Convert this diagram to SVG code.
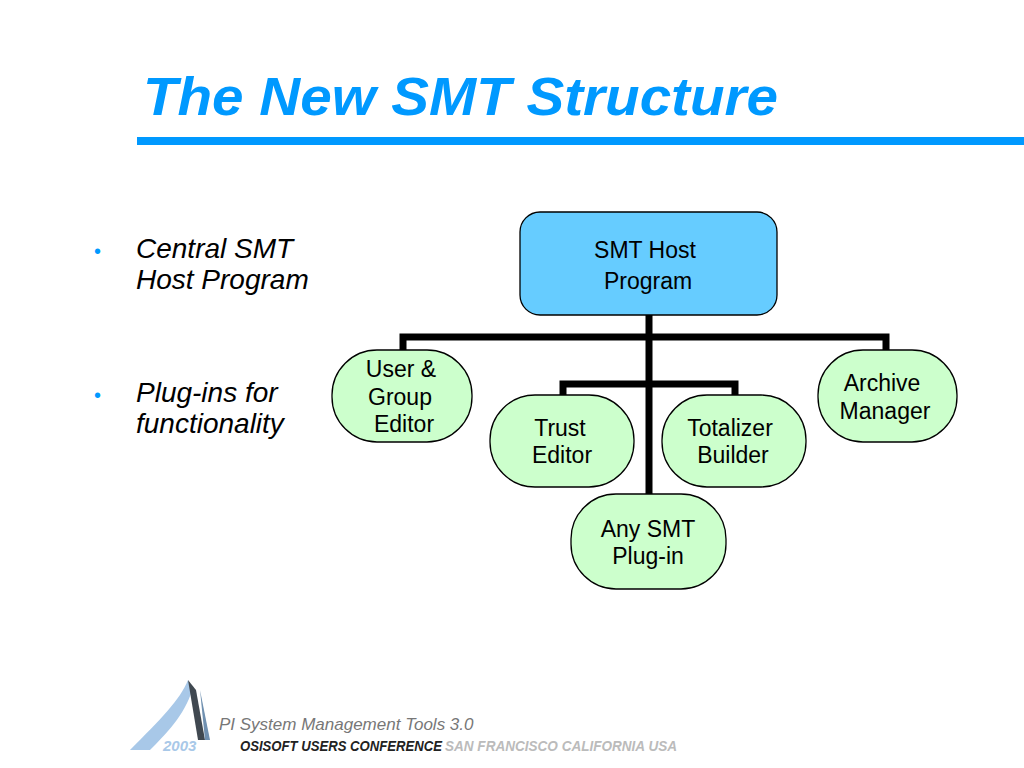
<svg xmlns="http://www.w3.org/2000/svg" width="1024" height="768" viewBox="0 0 1024 768">
<style>
.n{fill:#ccffcc;stroke:#000;stroke-width:1.3}
.t{font-family:"Liberation Sans",Arial,sans-serif;font-size:23px;fill:#000;text-anchor:middle}
.b{font-family:"Liberation Sans",Arial,sans-serif;font-size:28px;font-style:italic;fill:#000}
.c{stroke:#000;stroke-width:7;fill:none}
</style>
<rect width="1024" height="768" fill="#fff"/>
<text x="143" y="115" font-family="Liberation Sans,Arial,sans-serif" font-size="54" font-weight="bold" font-style="italic" fill="#0099ff" textLength="635" lengthAdjust="spacingAndGlyphs">The New SMT Structure</text>
<rect x="137" y="137" width="887" height="8" fill="#0099ff"/>
<g id="bullets">
<text x="94" y="258" font-family="Liberation Sans,Arial,sans-serif" font-size="20" fill="#0099ff">•</text>
<text x="136" y="258" class="b">Central SMT</text>
<text x="136" y="289" class="b">Host Program</text>
<text x="94" y="402" font-family="Liberation Sans,Arial,sans-serif" font-size="20" fill="#0099ff">•</text>
<text x="136" y="402" class="b">Plug-ins for</text>
<text x="136" y="433" class="b">functionality</text>
</g>
<g id="connectors">
<path class="c" d="M649 314V494M403 352V337H886V352M563 397V384H735V397"/>
</g>
<g id="host"><rect x="520" y="212" width="257" height="103" rx="20" fill="#66ccff" stroke="#000" stroke-width="1.3"/>
<text class="t" x="645" y="258">SMT Host</text><text class="t" x="648" y="289">Program</text></g>
<g id="user"><rect class="n" x="332" y="350" width="140" height="92" rx="45"/>
<text class="t" x="401" y="377">User &amp;</text><text class="t" x="400" y="405">Group</text><text class="t" x="404" y="432">Editor</text></g>
<g id="trust"><rect class="n" x="490" y="395" width="144" height="92" rx="45"/>
<text class="t" x="560" y="436">Trust</text><text class="t" x="562" y="463">Editor</text></g>
<g id="totalizer"><rect class="n" x="662" y="395" width="144" height="92" rx="45"/>
<text class="t" x="730" y="436">Totalizer</text><text class="t" x="733" y="463">Builder</text></g>
<g id="archive"><rect class="n" x="818" y="350" width="139" height="92" rx="45"/>
<text class="t" x="882" y="391">Archive</text><text class="t" x="885" y="419">Manager</text></g>
<g id="any"><rect class="n" x="571" y="494" width="155" height="95" rx="45"/>
<text class="t" x="648" y="537">Any SMT</text><text class="t" x="648" y="564">Plug-in</text></g>
<g id="footer">
<path d="M130 750 C160 720 180 700 188 680 L192 690 C185 715 165 735 150 750Z" fill="#a8c8e8"/>
<path d="M188 680 L198 740 L205 740 L196 690Z" fill="#404850"/>
<path d="M200 690 L205 740 L210 740 Z" fill="#7090b0"/>
<text x="163" y="751" font-family="Liberation Sans,Arial,sans-serif" font-size="15" font-weight="bold" font-style="italic" fill="#a8c8e8">2003</text>
<text x="219" y="730" font-family="Liberation Sans,Arial,sans-serif" font-size="17" font-style="italic" fill="#777">PI System Management Tools 3.0</text>
<text x="240" y="751" font-family="Liberation Sans,Arial,sans-serif" font-size="14" font-weight="bold" font-style="italic" fill="#222" textLength="202" lengthAdjust="spacingAndGlyphs">OSISOFT USERS CONFERENCE</text>
<text x="445" y="751" font-family="Liberation Sans,Arial,sans-serif" font-size="14" font-weight="bold" font-style="italic" fill="#bbb" textLength="232" lengthAdjust="spacingAndGlyphs">SAN FRANCISCO CALIFORNIA USA</text>
</g>
</svg>
